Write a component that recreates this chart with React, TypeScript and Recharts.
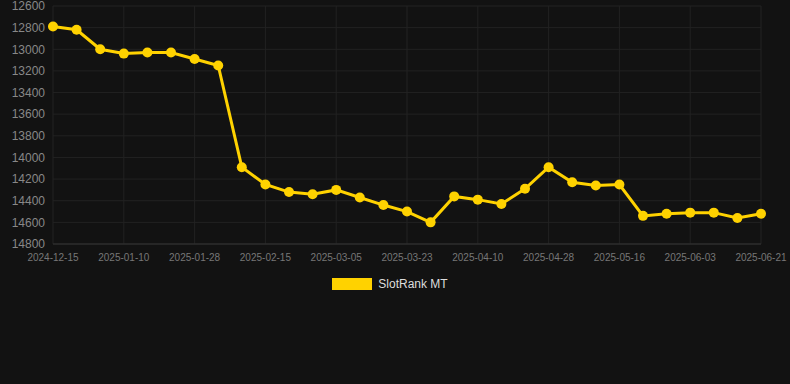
import { CartesianGrid, Legend, Line, LineChart, XAxis, YAxis } from "recharts";

const dates = [
  "2024-12-15", "2024-12-24", "2025-01-02", "2025-01-10", "2025-01-16", "2025-01-22",
  "2025-01-28", "2025-02-03", "2025-02-09", "2025-02-15", "2025-02-21", "2025-02-27",
  "2025-03-05", "2025-03-11", "2025-03-17", "2025-03-23", "2025-03-29", "2025-04-04",
  "2025-04-10", "2025-04-16", "2025-04-22", "2025-04-28", "2025-05-04", "2025-05-10",
  "2025-05-16", "2025-05-22", "2025-05-28", "2025-06-03", "2025-06-09", "2025-06-15",
  "2025-06-21",
];

const ranks = [
  12790, 12820, 13000, 13040, 13030, 13030, 13090, 13150, 14090, 14250, 14320, 14340,
  14300, 14370, 14440, 14500, 14600, 14360, 14390, 14430, 14290, 14090, 14230, 14260,
  14250, 14540, 14520, 14510, 14510, 14560, 14520,
];

const yTicks = [12600, 12800, 13000, 13200, 13400, 13600, 13800, 14000, 14200, 14400, 14600, 14800];

const seriesName = "SlotRank MT";
const lineColor = "#ffd200";

const data = dates.map((d, i) => ({ date: d, rank: ranks[i] }));

const LegendBox = () => (
  <div style={{ display: "flex", justifyContent: "center", alignItems: "center", height: 20, paddingRight: 10 }}>
    <span style={{ display: "inline-block", width: 40, height: 12, background: lineColor, marginRight: 6 }} />
    <span style={{ color: "#dddddd", fontSize: 12 }}>{seriesName}</span>
  </div>
);

const App = () => {
  return (
    <div
      style={{
        position: "fixed",
        left: 0,
        top: 0,
        width: 790,
        height: 384,
        background: "#121212",
        fontFamily: "'Liberation Sans', Arial, sans-serif",
      }}
    >
      <LineChart width={790} height={384} data={data} margin={{ top: 6, right: 29, left: 0, bottom: 90 }}>
        <CartesianGrid stroke="#222222" strokeWidth={1} />
        <XAxis
          dataKey="date"
          interval={2}
          tick={{ fill: "#777777", fontSize: 10 }}
          tickLine={false}
          axisLine={{ stroke: "#333333" }}
          tickMargin={4}
        />
        <YAxis
          reversed
          domain={[12600, 14800]}
          ticks={yTicks}
          interval={0}
          width={53}
          tick={{ fill: "#888888", fontSize: 12 }}
          tickLine={false}
          axisLine={false}
          tickMargin={2}
        />
        <Legend
          verticalAlign="bottom"
          content={<LegendBox />}
          wrapperStyle={{ left: 0, width: 790 }}
        />
        <Line
          type="linear"
          dataKey="rank"
          name={seriesName}
          stroke={lineColor}
          strokeWidth={3}
          dot={{ r: 5, fill: lineColor, stroke: lineColor, strokeWidth: 0 }}
          isAnimationActive={false}
        />
      </LineChart>
    </div>
  );
};

export default App;
